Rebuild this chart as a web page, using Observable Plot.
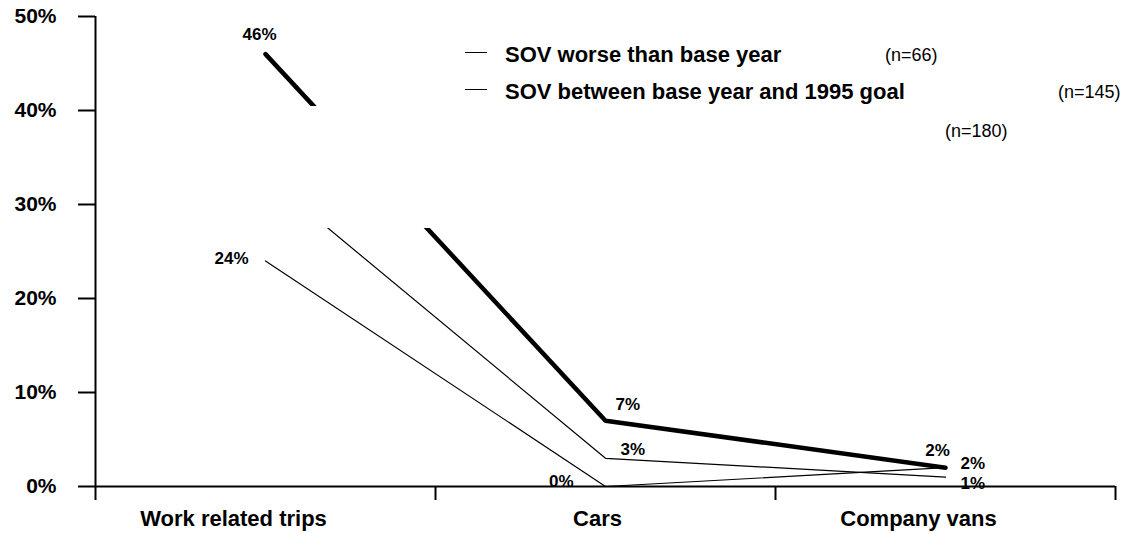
<!DOCTYPE html>
<html>
<head>
<meta charset="utf-8">
<script src="https://cdn.jsdelivr.net/npm/d3@7"></script>
<script src="https://cdn.jsdelivr.net/npm/@observablehq/plot@0.6"></script>
<style>
  html, body { margin: 0; padding: 0; background: #fff; }
  #wrap { position: relative; width: 1124px; height: 533px; font-family: "Liberation Sans", Arial, sans-serif; color: #000; }
  #wrap svg { position: absolute; left: 0; top: 0; }
  .mask { position: absolute; background: #fff; }
  .lg-line { position: absolute; height: 0; border-top: 1px solid #000; width: 22px; }
  .lg-text { position: absolute; font-weight: bold; font-size: 22px; line-height: 22px; white-space: nowrap; }
  .lg-n { position: absolute; font-size: 18px; line-height: 18px; white-space: nowrap; }
</style>
</head>
<body>
<div id="wrap"></div>
<script>
// ---- data ----
const categories = ["Work related trips", "Cars", "Company vans"];
const seriesNames = ["SOV worse than base year", "SOV between base year and 1995 goal", ""];
const seriesN = [66, 145, 180];
const worseValues = [24, 0, 2];
const betweenValues = [33, 3, 1];
const goalValues = [46, 7, 2];
const yTicks = [0, 10, 20, 30, 40, 50];

const seriesValues = [worseValues, betweenValues, goalValues];
const rows = [];
seriesValues.forEach((vals, s) => vals.forEach((v, i) => rows.push({s, i, cat: categories[i], v})));
const boundaries = d3.range(categories.length + 1).map(k => k - 0.5);

// label placement (style only)
const place = {
  "0-0": {a: "end", dx: -17, dy: -2},
  "0-1": {a: "end", dx: -32, dy: -5},
  "0-2": {a: "start", dx: 15, dy: -4},
  "1-0": {a: "end", dx: -17, dy: -2},
  "1-1": {a: "start", dx: 15, dy: -9},
  "1-2": {a: "start", dx: 15, dy: 6},
  "2-0": {a: "middle", dx: -6, dy: -20},
  "2-1": {a: "start", dx: 10, dy: -16},
  "2-2": {a: "middle", dx: -8, dy: -17}
};
const catShift = [-32, -8, -27];

const labelMarks = rows.map(r => {
  const p = place[r.s + "-" + r.i];
  return Plot.text([r], {
    x: "i", y: "v", text: d => d.v + "%",
    textAnchor: p.a, dx: p.dx, dy: p.dy,
    fontSize: 17, fontWeight: "bold", fill: "#000"
  });
});

const catMarks = categories.map((c, k) => Plot.text([c], {
  x: () => k, y: () => 0, text: d => d, dy: 32, dx: catShift[k],
  fontSize: 22, fontWeight: "bold", fill: "#000"
}));

const chart = Plot.plot({
  width: 1124,
  height: 533,
  marginLeft: 95,
  marginRight: 9,
  marginTop: 16,
  marginBottom: 47,
  style: {fontFamily: "'Liberation Sans', Arial, sans-serif", background: "#fff", overflow: "visible"},
  x: {domain: [-0.5, categories.length - 0.5], axis: null},
  y: {domain: [0, 50], axis: null},
  marks: [
    Plot.axisY({ticks: yTicks, tickSize: 17, tickPadding: 22, tickFormat: d => d + "%",
      fontSize: 21, fontWeight: "bold", strokeWidth: 2, label: null, fill: "#000"}),
    Plot.axisX({ticks: boundaries, tickSize: 14, tickFormat: () => "", strokeWidth: 2, label: null}),
    Plot.ruleX([-0.5], {y1: 0, y2: 50, strokeWidth: 2}),
    Plot.ruleY([0], {strokeWidth: 2}),
    ...catMarks,
    Plot.line(rows.filter(r => r.s === 0), {x: "i", y: "v", stroke: "#000", strokeWidth: 1.2}),
    Plot.line(rows.filter(r => r.s === 1), {x: "i", y: "v", stroke: "#000", strokeWidth: 1.2}),
    Plot.line(rows.filter(r => r.s === 2), {x: "i", y: "v", stroke: "#000", strokeWidth: 4.5, strokeLinejoin: "miter"}),
    ...labelMarks
  ]
});

const wrap = document.getElementById("wrap");
wrap.appendChild(chart);

// legend box area that hides part of the lines
const mask = document.createElement("div");
mask.className = "mask";
Object.assign(mask.style, {left: "100px", top: "106px", width: "900px", height: "122px"});
wrap.appendChild(mask);

// legend
const rowsY = [55, 92, 131];
const nX = [885, 1058, 945];
seriesNames.forEach((name, k) => {
  if (name) {
    const ln = document.createElement("div");
    ln.className = "lg-line";
    Object.assign(ln.style, {left: "465px", top: (rowsY[k] - 3) + "px"});
    wrap.appendChild(ln);
    const t = document.createElement("div");
    t.className = "lg-text";
    t.textContent = name;
    Object.assign(t.style, {left: "505px", top: (rowsY[k] - 11) + "px"});
    wrap.appendChild(t);
  }
  const n = document.createElement("div");
  n.className = "lg-n";
  n.textContent = "(n=" + seriesN[k] + ")";
  Object.assign(n.style, {left: nX[k] + "px", top: (rowsY[k] - 9) + "px"});
  wrap.appendChild(n);
});
</script>
</body>
</html>
